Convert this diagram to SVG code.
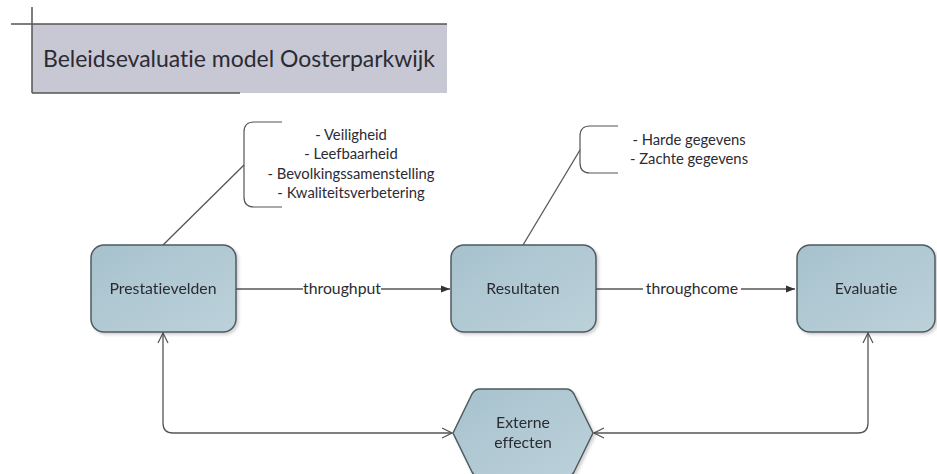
<svg xmlns="http://www.w3.org/2000/svg" width="937" height="474" viewBox="0 0 937 474">
<style>
text{font-family:Lato,"Open Sans","Liberation Sans",sans-serif;fill:#2b2b33;font-variant-ligatures:none}
.node{fill:url(#g);stroke:#4f5a60;stroke-width:1.5}
.lbl{font-size:15.8px;text-anchor:middle}
.note{font-size:14.8px;text-anchor:middle}
.c{fill:none;stroke:#555;stroke-width:1.3}
.br{fill:none;stroke:#555;stroke-width:1.2}
</style>
<defs>
<linearGradient id="g" x1="0" y1="0" x2="1" y2="1">
<stop offset="0" stop-color="#a7c2cd"/>
<stop offset="1" stop-color="#bcd1da"/>
</linearGradient>
<marker id="fa" viewBox="0 0 10 10" refX="10" refY="5" markerWidth="9" markerHeight="9" markerUnits="userSpaceOnUse" orient="auto">
<path d="M0,1 L10,5 L0,9 Z" fill="#333"/>
</marker>
<marker id="oa" viewBox="0 0 12 12" refX="11" refY="6" markerWidth="12" markerHeight="12" markerUnits="userSpaceOnUse" orient="auto-start-reverse">
<path d="M1,1 L11,6 L1,11" fill="none" stroke="#555" stroke-width="1.2"/>
</marker>
<filter id="sh" x="-10%" y="-10%" width="125%" height="130%">
<feDropShadow dx="2" dy="2" stdDeviation="1.5" flood-color="#000" flood-opacity="0.18"/>
</filter>
</defs>

<g id="title">
<rect x="32" y="24" width="415" height="69" fill="#c8c7d4"/>
<line x1="11" y1="24" x2="447" y2="24" stroke="#555" stroke-width="1.5"/>
<line x1="32" y1="7" x2="32" y2="93" stroke="#555" stroke-width="1.5"/>
<line x1="32" y1="93" x2="240" y2="93" stroke="#555" stroke-width="1.5"/>
<text x="43" y="67" font-size="23" textLength="392" lengthAdjust="spacingAndGlyphs">Beleidsevaluatie model Oosterparkwijk</text>
</g>

<g id="connectors">
<line class="c" x1="236" y1="289" x2="303" y2="289"/>
<line class="c" x1="381" y1="289" x2="450" y2="289" marker-end="url(#fa)"/>
<text class="lbl" x="342" y="294">throughput</text>
<line class="c" x1="596" y1="289" x2="643" y2="289"/>
<line class="c" x1="741" y1="289" x2="795" y2="289" marker-end="url(#fa)"/>
<text class="lbl" x="692" y="294">throughcome</text>
<path class="c" d="M163,333 V423 Q163,433 173,433 H452" marker-start="url(#oa)" marker-end="url(#oa)"/>
<path class="c" d="M868,333 V423 Q868,433 858,433 H594" marker-start="url(#oa)" marker-end="url(#oa)"/>
<line class="c" x1="163" y1="245" x2="244" y2="165"/>
<line class="c" x1="523" y1="245" x2="580" y2="150"/>
</g>

<g id="note1">
<path class="br" d="M282,122 H254 Q244,122 244,132 V197 Q244,207 254,207 H282"/>
<text class="note" x="351" y="140">- Veiligheid</text>
<text class="note" x="351" y="159">- Leefbaarheid</text>
<text class="note" x="351" y="179">- Bevolkingssamenstelling</text>
<text class="note" x="351" y="198">- Kwaliteitsverbetering</text>
</g>

<g id="note2">
<path class="br" d="M618,126 H590 Q580,126 580,136 V163 Q580,173 590,173 H618"/>
<text class="note" x="689" y="145">- Harde gegevens</text>
<text class="note" x="689" y="164">- Zachte gegevens</text>
</g>

<g id="prestatievelden" filter="url(#sh)">
<rect class="node" x="91" y="245" width="145" height="87" rx="13"/>
<text class="lbl" x="163" y="294">Prestatievelden</text>
</g>

<g id="resultaten" filter="url(#sh)">
<rect class="node" x="451" y="245" width="145" height="87" rx="13"/>
<text class="lbl" x="523" y="294">Resultaten</text>
</g>

<g id="evaluatie" filter="url(#sh)">
<rect class="node" x="797" y="245" width="138" height="87" rx="13"/>
<text class="lbl" x="866" y="294">Evaluatie</text>
</g>

<g id="externe" filter="url(#sh)">
<path class="node" d="M453,433 L472,394 Q475,389 480,389 H566 Q571,389 574,394 L593,433 L574,472 Q571,477 566,477 H480 Q475,477 472,472 Z"/>
<text class="lbl" x="523" y="428">Externe</text>
<text class="lbl" x="523" y="448">effecten</text>
</g>
</svg>
